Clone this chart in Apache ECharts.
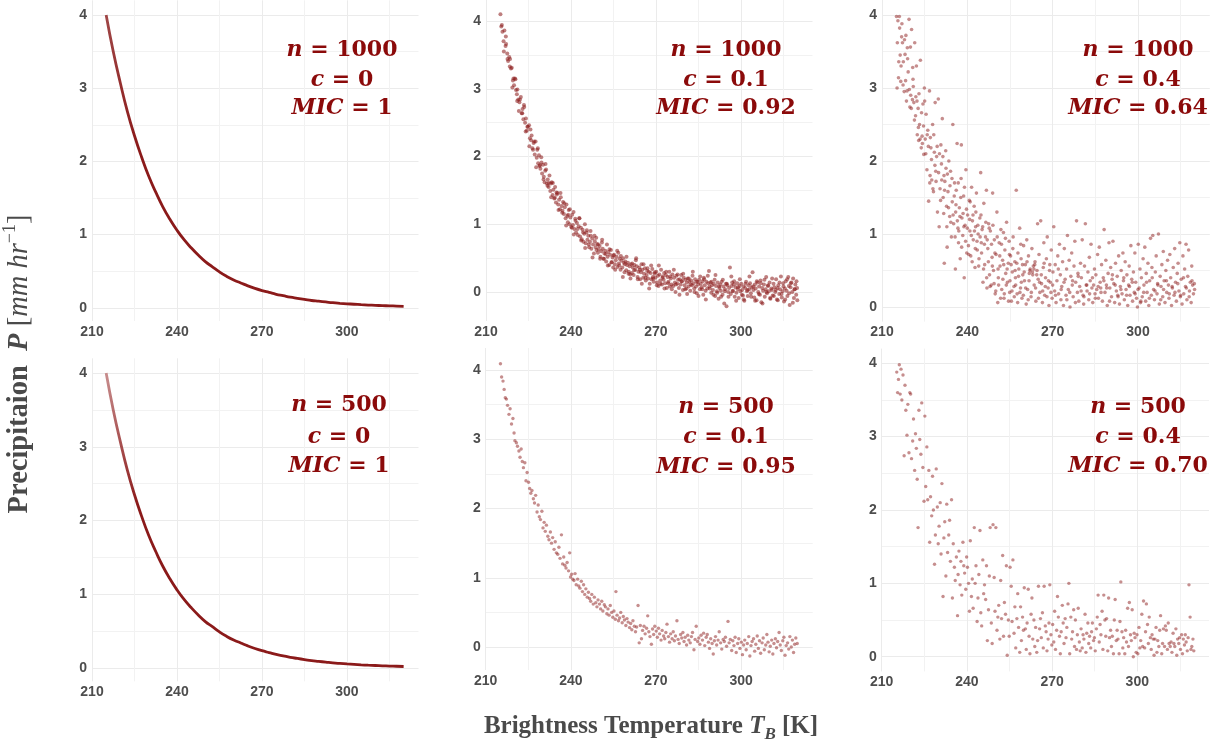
<!DOCTYPE html>
<html><head><meta charset="utf-8">
<script src="https://cdn.jsdelivr.net/npm/echarts@6/dist/echarts.min.js"></script>
<style>html,body{margin:0;padding:0;background:#fff}#c{width:1214px;height:742px}</style>
</head><body><div id="c"></div>
<script>
// ---------- DATA ----------
const xTickLabels = ['210','240','270','300'];
const nVals = ['1000','1000','1000','500','500','500'];
const cVals = ['0','0.1','0.4','0','0.1','0.4'];
const micVals = ['1','0.92','0.64','1','0.95','0.70'];

const curveT = [215,217.5,220,222.5,225,227.5,230,232.5,235,237.5,240,242.5,245,247.5,250,252.5,255,257.5,260,262.5,265,267.5,270,272.5,275,277.5,280,282.5,285,287.5,290,292.5,295,297.5,300,302.5,305,307.5,310,312.5,315,317.5,320];
const curveP = [4.00,3.50,3.07,2.68,2.35,2.06,1.80,1.58,1.38,1.21,1.06,0.93,0.82,0.72,0.63,0.56,0.49,0.43,0.38,0.34,0.30,0.265,0.235,0.21,0.185,0.165,0.145,0.13,0.115,0.10,0.09,0.08,0.07,0.062,0.055,0.049,0.043,0.038,0.034,0.030,0.027,0.024,0.021];

// n = 1000, c = 0.1
const pts1000c01 = [[215.1,4.10],[215.4,3.92],[215.8,3.84],[216.2,3.70],[216.5,3.86],[216.9,3.63],[217.1,3.66],[217.5,3.52],[217.8,3.41],[218.2,3.47],[218.4,3.33],[218.8,3.30],[219.1,3.31],[219.5,3.12],[219.9,3.05],[220.2,3.15],[220.6,2.98],[220.9,2.92],[221.1,2.99],[221.4,2.84],[221.8,2.80],[222.3,2.88],[222.6,2.64],[222.9,2.70],[223.2,2.55],[223.5,2.73],[223.8,2.50],[224.1,2.56],[224.4,2.38],[224.8,2.44],[225.2,2.46],[225.5,2.27],[225.9,2.24],[226.1,2.31],[226.4,2.12],[226.8,2.20],[227.2,2.03],[227.5,2.22],[227.9,1.98],[228.1,2.10],[228.4,1.90],[228.7,2.02],[228.9,1.86],[229.2,1.82],[229.5,1.99],[229.8,1.75],[230.1,1.88],[230.4,1.70],[230.7,1.62],[230.9,1.79],[231.2,1.81],[231.5,1.60],[231.8,1.66],[232.1,1.55],[232.4,1.72],[232.7,1.49],[232.9,1.60],[233.2,1.62],[233.5,1.43],[233.8,1.51],[234.1,1.38],[234.4,1.55],[234.7,1.32],[234.9,1.47],[235.2,1.46],[235.5,1.29],[235.8,1.36],[236.1,1.22],[236.4,1.40],[236.7,1.27],[236.9,1.17],[237.2,1.33],[237.5,1.15],[237.8,1.25],[238.1,1.09],[238.4,1.29],[238.7,1.12],[238.9,1.03],[239.2,1.21],[239.5,1.00],[239.8,1.10],[240.1,0.96],[240.4,1.14],[240.7,0.99],[240.9,1.18],[241.2,0.93],[241.5,1.08],[241.8,0.88],[242.1,1.02],[242.4,0.84],[242.7,0.97],[242.9,1.09],[243.2,0.82],[243.5,0.95],[243.8,0.78],[244.1,0.92],[244.4,0.74],[244.7,0.86],[244.9,1.00],[245.2,0.72],[245.5,0.88],[245.8,0.77],[246.1,0.83],[246.4,0.66],[246.7,0.74],[246.9,0.90],[247.2,0.64],[247.5,0.79],[247.8,0.70],[248.1,0.57],[248.4,0.75],[248.7,0.66],[248.9,0.80],[249.2,0.71],[249.5,0.58],[249.8,0.63],[250.1,0.68],[250.4,0.52],[250.7,0.60],[250.9,0.73],[251.2,0.64],[251.5,0.49],[251.8,0.57],[252.1,0.61],[252.4,0.45],[252.7,0.70],[252.9,0.52],[253.2,0.59],[253.5,0.40],[253.8,0.55],[254.1,0.62],[254.4,0.44],[254.7,0.51],[254.9,0.36],[255.2,0.55],[255.5,0.41],[255.8,0.47],[256.1,0.52],[256.4,0.37],[256.7,0.58],[256.9,0.42],[257.2,0.49],[257.5,0.33],[257.8,0.46],[258.1,0.36],[258.4,0.50],[258.7,0.43],[258.9,0.29],[259.2,0.45],[259.5,0.32],[259.8,0.40],[260.1,0.43],[260.4,0.30],[260.7,0.38],[260.9,0.26],[261.2,0.41],[261.5,0.28],[261.8,0.36],[262.1,0.25],[262.4,0.40],[262.7,0.33],[262.9,0.47],[263.2,0.38],[263.5,0.22],[263.8,0.30],[264.1,0.36],[264.4,0.19],[264.7,0.29],[264.9,0.41],[265.2,0.33],[265.5,0.21],[265.8,0.27],[266.1,0.35],[266.4,0.17],[266.7,0.25],[266.9,0.31],[267.2,0.20],[267.5,0.30],[267.8,0.12],[268.1,0.28],[268.4,0.19],[268.7,0.34],[268.9,0.22],[269.2,0.15],[269.5,0.27],[269.8,0.21],[270.1,0.30],[270.4,0.14],[270.7,0.24],[270.9,0.09],[271.2,0.26],[271.5,0.17],[271.8,0.33],[272.1,0.11],[272.4,0.23],[272.7,0.18],[272.9,0.28],[273.2,0.13],[273.5,0.25],[273.8,0.06],[274.1,0.22],[274.4,0.15],[274.7,0.30],[274.9,0.08],[275.2,0.20],[275.5,0.11],[275.8,0.26],[276.1,0.09],[276.4,0.21],[276.7,0.14],[276.9,0.00],[277.2,0.24],[277.5,0.12],[277.8,0.18],[278.1,0.06],[278.4,0.19],[278.7,0.11],[278.9,0.25],[279.2,0.16],[279.5,0.03],[279.8,0.21],[280.1,0.10],[280.4,0.18],[280.7,0.05],[280.9,0.14],[281.2,0.20],[281.5,0.08],[281.8,0.15],[282.1,0.02],[282.4,0.17],[282.7,0.10],[282.9,0.24],[283.2,0.13],[283.5,0.05],[283.8,0.19],[284.1,0.08],[284.4,-0.02],[284.7,0.15],[284.9,0.11],[285.2,0.18],[285.5,0.04],[285.8,0.12],[286.1,0.07],[286.4,0.16],[286.7,-0.04],[286.9,0.21],[287.2,0.10],[287.5,0.02],[287.8,0.15],[288.1,0.05],[288.4,0.13],[288.7,0.31],[288.9,0.08],[289.2,0.14],[289.5,-0.01],[289.8,0.10],[290.1,0.03],[290.4,0.12],[290.7,0.18],[290.9,-0.06],[291.2,0.09],[291.5,0.01],[291.8,0.14],[292.1,-0.10],[292.4,0.06],[292.7,0.11],[292.9,0.02],[293.2,0.15],[293.5,-0.04],[293.8,0.08],[294.1,-0.17],[294.4,0.04],[294.7,0.12],[294.9,-0.21],[295.2,0.10],[295.5,0.00],[295.8,0.06],[296.1,0.36],[296.4,-0.03],[296.7,0.09],[296.9,0.14],[297.2,0.02],[297.5,0.11],[297.8,-0.07],[298.1,0.07],[298.4,-0.01],[298.7,0.13],[298.9,0.04],[299.2,-0.09],[299.5,0.09],[299.8,0.01],[300.1,0.12],[300.4,0.03],[300.7,-0.05],[300.9,0.08],[301.2,-0.13],[301.5,0.06],[301.8,0.15],[302.1,0.01],[302.4,-0.06],[302.7,0.10],[302.9,0.04],[303.2,0.13],[303.5,-0.02],[303.8,0.07],[304.1,0.29],[304.4,0.03],[304.7,-0.08],[304.9,0.11],[305.2,0.05],[305.5,-0.12],[305.8,0.14],[306.1,0.00],[306.4,0.08],[306.7,-0.04],[306.9,0.17],[307.2,-0.15],[307.5,0.06],[307.8,0.02],[308.1,0.11],[308.4,-0.07],[308.7,0.04],[308.9,0.22],[309.2,-0.02],[309.5,0.09],[309.8,0.01],[310.1,0.14],[310.4,-0.10],[310.7,0.05],[310.9,0.03],[311.2,-0.05],[311.5,0.12],[311.8,0.07],[312.1,0.00],[312.4,0.19],[312.7,-0.11],[312.9,0.06],[313.2,0.10],[313.5,-0.03],[313.8,0.04],[314.1,0.23],[314.4,-0.08],[314.7,0.01],[314.9,0.13],[315.2,-0.14],[315.5,0.05],[315.8,0.16],[316.1,0.02],[316.4,-0.06],[316.7,0.22],[316.9,0.09],[317.2,-0.19],[317.5,0.07],[317.8,0.14],[318.1,0.00],[318.4,0.20],[318.7,-0.09],[318.9,0.04],[319.2,0.11],[319.5,-0.04],[319.8,0.06],[319.9,-0.12],
[215.6,3.94],[216.3,3.55],[217.0,3.77],[217.6,3.44],[218.5,3.44],[219.3,3.02],[219.7,3.15],[220.4,3.14],[221.0,2.82],[221.6,2.67],[222.0,2.84],[222.8,2.64],[223.4,2.76],[224.0,2.37],[224.6,2.44],[225.3,2.15],[225.7,2.40],[226.6,2.10],[227.0,2.22],[227.7,1.84],[228.3,2.12],[229.0,1.87],[229.6,1.91],[230.3,1.66],[231.0,1.89],[231.7,1.57],[232.2,1.61],[233.0,1.40],[233.6,1.61],[234.3,1.39],[235.0,1.44],[235.6,1.21],[236.3,1.46],[237.0,1.20],[237.6,1.31],[238.3,0.98],[239.0,1.14],[239.6,1.22],[240.3,0.95],[241.0,0.85],[241.6,1.05],[242.3,0.93],[243.0,1.09],[243.6,0.76],[244.3,0.88],[245.0,0.65],[245.6,0.91],[246.3,0.70],[247.0,0.83],[247.6,0.51],[248.3,0.83],[249.0,0.62],[249.6,0.70],[250.3,0.49],[251.0,0.77],[251.6,0.49],[252.3,0.56],[253.0,0.39],[253.6,0.63],[254.3,0.44],[255.0,0.54],[255.6,0.33],[256.3,0.61],[257.0,0.39],[257.6,0.53],[258.3,0.22],[259.0,0.41],[259.6,0.52],[260.3,0.27],[261.0,0.20],[261.6,0.42],[262.3,0.32],[263.0,0.50],[263.6,0.19],[264.3,0.33],[265.0,0.12],[265.6,0.41],[266.3,0.21],[267.0,0.35],[267.6,0.05],[268.3,0.39],[269.0,0.20],[269.6,0.29],[270.3,0.10],[271.0,0.39],[271.6,0.12],[272.3,0.21],[273.0,0.05],[273.6,0.30],[274.3,0.13],[275.0,0.23],[275.6,0.04],[276.3,0.33],[277.0,0.11],[277.6,0.26],[278.3,-0.04],[279.0,0.16],[279.6,0.27],[280.3,0.04],[281.0,-0.03],[281.6,0.20],[282.3,0.11],[283.0,0.30],[283.6,0.00],[284.3,0.15],[285.0,-0.06],[285.6,0.23],[286.3,0.04],[287.0,0.19],[287.6,-0.11],[288.3,0.24],[289.0,0.05],[289.6,0.15],[290.3,-0.04],[291.0,0.25],[291.6,-0.01],[292.3,0.08],[293.0,-0.07],[293.6,0.18],[294.3,0.01],[295.0,0.12],[295.6,-0.07],[296.6,0.23],[297.0,0.01],[297.6,0.16],[298.3,-0.13],[299.0,0.07],[299.6,0.19],[300.3,-0.04],[301.0,-0.11],[301.6,0.12],[302.3,0.03],[303.0,0.23],[303.6,-0.07],[304.3,0.08],[305.0,-0.13],[305.6,0.16],[306.3,-0.03],[307.0,0.13],[307.6,-0.17],[308.3,0.18],[309.0,0.00],[309.6,0.10],[310.3,-0.09],[311.0,0.20],[311.6,-0.06],[312.3,0.03],[313.0,-0.12],[313.6,0.14],[314.3,-0.03],[315.0,0.08],[315.6,-0.11],[316.3,0.19],[317.0,-0.02],[317.6,0.13],[318.3,-0.16],[319.0,0.04],[319.6,0.16]];

// n = 1000, c = 0.4
const pts1000c04 = [[215.1,3.98],[215.3,3.00],[215.6,3.92],[215.9,3.36],[216.1,3.98],[216.4,3.45],[216.6,3.09],[216.9,3.70],[217.2,3.62],[217.5,3.36],[217.8,2.95],[218.1,3.46],[218.3,3.10],[218.6,2.82],[218.9,3.55],[219.2,3.22],[219.5,3.94],[219.8,2.74],[220.1,2.90],[220.4,3.80],[220.7,2.84],[220.9,3.12],[221.2,2.80],[221.5,3.62],[221.8,2.62],[222.1,3.30],[222.4,2.36],[222.7,2.72],[222.9,2.28],[223.2,2.50],[223.5,3.38],[223.8,2.18],[224.1,2.34],[224.4,2.78],[224.7,2.09],[224.9,3.00],[225.2,2.30],[225.5,2.64],[225.8,1.88],[226.1,2.42],[226.4,1.45],[226.7,2.96],[226.9,1.80],[227.2,2.18],[227.5,1.74],[227.8,2.50],[228.1,1.58],[228.4,2.12],[228.7,2.80],[228.9,1.86],[229.2,2.06],[229.5,1.30],[229.8,2.85],[230.1,1.10],[230.4,1.62],[230.7,2.22],[230.9,1.96],[231.2,2.58],[231.5,1.50],[231.8,1.80],[231.9,0.60],[232.1,1.72],[232.4,2.14],[232.7,1.38],[232.9,0.82],[233.2,1.58],[233.5,2.00],[233.8,1.24],[234.1,1.86],[234.4,0.96],[234.7,1.44],[234.9,2.50],[235.2,1.14],[235.5,1.70],[235.8,0.52],[235.9,1.30],[236.1,1.60],[236.4,2.24],[236.7,1.08],[236.9,0.88],[237.2,1.36],[237.5,0.66],[237.8,1.76],[237.9,2.22],[238.1,1.22],[238.4,0.98],[238.7,1.52],[238.9,0.40],[239.2,1.12],[239.5,1.88],[239.8,0.74],[240.1,1.26],[240.4,0.84],[240.7,1.46],[240.9,1.04],[241.2,0.70],[241.5,1.64],[241.8,1.18],[242.1,0.92],[242.4,1.38],[242.7,0.54],[242.9,1.10],[243.2,1.56],[243.5,0.78],[243.8,1.00],[244.1,0.66],[244.4,1.22],[244.7,1.84],[244.9,0.88],[245.2,1.06],[245.5,0.34],[245.8,1.42],[246.1,0.58],[246.4,0.96],[246.7,1.60],[246.9,0.26],[247.2,0.80],[247.5,1.14],[247.8,0.44],[248.1,1.04],[248.4,0.30],[248.7,0.68],[248.9,1.56],[249.2,0.50],[249.5,0.92],[249.8,0.18],[250.1,0.72],[250.4,1.30],[250.7,0.06],[250.9,0.40],[251.2,0.88],[251.5,0.56],[251.8,1.06],[252.1,0.24],[252.4,0.64],[252.7,1.02],[252.9,0.12],[253.2,0.78],[253.5,0.46],[253.8,1.16],[254.1,0.34],[254.4,0.60],[254.7,0.90],[254.9,0.20],[255.2,0.70],[255.5,0.08],[255.8,0.48],[256.1,0.96],[256.4,0.28],[256.7,0.62],[256.9,0.40],[257.2,1.60],[257.5,0.18],[257.8,0.74],[258.1,0.52],[258.4,1.08],[258.7,0.26],[258.9,0.66],[259.2,0.12],[259.5,0.44],[259.8,0.84],[260.1,0.36],[260.4,0.58],[260.7,0.04],[260.9,0.92],[261.2,0.24],[261.5,0.70],[261.8,0.46],[262.1,0.52],[262.4,0.14],[262.7,0.80],[262.9,0.48],[263.2,0.56],[263.5,0.30],[263.8,0.62],[264.1,0.08],[264.4,0.44],[264.7,1.14],[264.9,0.38],[265.2,0.72],[265.5,0.20],[265.8,1.18],[266.1,0.32],[266.4,0.06],[266.7,0.54],[266.9,0.88],[267.2,0.16],[267.5,0.40],[267.8,0.66],[268.1,0.96],[268.4,0.26],[268.7,0.02],[268.9,0.50],[269.2,0.34],[269.5,0.78],[269.8,0.12],[270.1,0.48],[270.4,1.10],[270.7,0.22],[270.9,0.58],[271.2,0.06],[271.5,0.36],[271.8,0.70],[272.1,0.18],[272.4,0.86],[272.7,0.44],[272.9,0.10],[273.2,0.28],[273.5,0.62],[273.8,0.02],[274.1,0.80],[274.4,0.38],[274.7,0.16],[274.9,0.52],[275.2,0.98],[275.5,0.24],[275.8,0.64],[276.1,0.00],[276.4,0.42],[276.7,0.74],[276.9,0.30],[277.2,0.14],[277.5,0.56],[277.8,0.90],[278.1,0.34],[278.4,1.18],[278.7,0.20],[278.9,0.46],[279.2,0.08],[279.5,0.28],[279.8,0.60],[280.1,0.40],[280.4,0.92],[280.7,0.16],[280.9,0.04],[281.2,0.56],[281.5,1.14],[281.8,0.30],[282.1,0.22],[282.4,0.48],[282.7,0.10],[282.9,0.68],[283.2,0.36],[283.5,0.86],[283.8,0.26],[284.1,0.06],[284.4,0.30],[284.7,0.52],[284.9,0.18],[285.2,0.44],[285.5,0.24],[285.8,0.72],[286.1,0.12],[286.4,0.82],[286.7,0.34],[286.9,0.26],[287.2,0.58],[287.5,0.08],[287.8,0.40],[288.1,1.06],[288.4,0.20],[288.7,0.64],[288.9,0.30],[289.2,0.02],[289.5,0.46],[289.8,0.88],[290.1,0.26],[290.4,0.54],[290.7,0.14],[290.9,0.38],[291.2,0.90],[291.5,0.32],[291.8,0.06],[292.1,0.60],[292.4,0.22],[292.7,0.42],[292.9,0.16],[293.2,0.70],[293.5,0.04],[293.8,0.28],[294.1,0.50],[294.4,0.18],[294.7,0.74],[294.9,0.36],[295.2,0.10],[295.5,0.62],[295.8,0.24],[296.1,0.44],[296.4,0.02],[296.7,0.30],[296.9,0.56],[297.2,0.16],[297.5,0.84],[297.8,0.38],[298.1,0.08],[298.4,0.48],[298.7,0.20],[298.9,0.74],[299.2,0.34],[299.5,0.12],[299.8,0.00],[300.1,0.86],[300.4,0.26],[300.7,0.52],[300.9,0.06],[301.2,0.40],[301.5,0.14],[301.8,0.66],[302.1,0.30],[302.4,0.82],[302.7,0.08],[302.9,0.46],[303.2,0.20],[303.5,0.60],[303.8,0.02],[304.1,0.36],[304.4,0.94],[304.7,0.16],[304.9,0.54],[305.2,0.98],[305.5,0.24],[305.8,0.10],[306.1,0.48],[306.4,0.70],[306.7,0.18],[306.9,0.32],[307.2,1.00],[307.5,0.04],[307.8,0.42],[308.1,0.28],[308.4,0.58],[308.7,0.14],[308.9,0.76],[309.2,0.36],[309.5,0.06],[309.8,0.50],[310.1,0.20],[310.4,0.64],[310.7,0.30],[310.9,0.12],[311.2,0.72],[311.5,0.40],[311.8,0.02],[312.1,0.26],[312.4,0.54],[312.7,0.16],[312.9,0.80],[313.2,0.34],[313.5,0.08],[313.8,0.46],[314.1,0.60],[314.4,0.22],[314.7,0.88],[314.9,0.14],[315.2,0.38],[315.5,0.04],[315.8,0.70],[316.1,0.18],[316.4,0.52],[316.7,0.28],[316.9,0.86],[317.2,0.10],[317.5,0.42],[317.8,0.78],[318.1,0.22],[318.4,0.34],[318.7,0.06],[318.9,0.56],[319.2,0.30],[319.5,0.18],[319.8,0.32],[319.9,0.24],
[215.4,3.62],[215.8,3.14],[216.2,3.82],[216.7,3.30],[217.0,3.88],[217.4,3.04],[217.9,3.66],[218.4,3.72],[218.8,2.96],[219.0,3.40],[219.6,2.98],[220.0,3.56],[220.3,2.72],[220.8,3.28],[221.0,3.02],[221.4,2.56],[221.9,2.88],[222.3,2.82],[222.8,2.46],[223.0,2.92],[223.4,2.30],[223.9,2.66],[224.2,2.24],[224.6,2.48],[225.0,2.82],[225.4,2.10],[225.9,2.36],[226.3,2.20],[226.8,1.70],[227.0,2.32],[227.4,2.02],[227.9,1.62],[228.2,2.36],[228.6,1.94],[229.0,1.72],[229.4,2.20],[229.9,1.84],[230.2,2.10],[230.6,1.46],[231.0,1.74],[231.4,2.06],[231.7,1.28],[232.0,1.60],[232.5,1.90],[232.8,1.10],[233.0,1.82],[233.4,1.36],[233.9,1.66],[234.2,1.16],[234.6,1.76],[235.0,1.26],[235.4,1.52],[235.7,0.96],[236.0,1.40],[236.5,1.18],[236.8,1.70],[237.0,1.04],[237.4,1.24],[237.7,1.50],[238.0,0.82],[238.5,1.28],[238.8,1.10],[239.0,1.64],[239.4,0.90],[239.7,1.34],[240.0,1.08],[240.5,0.72],[240.8,1.20],[241.0,1.44],[241.4,0.98],[241.7,0.62],[242.0,1.26],[242.5,1.04],[242.8,0.80],[243.0,1.30],[243.4,0.90],[243.7,1.12],[244.0,0.56],[244.5,0.96],[244.8,1.26],[245.0,0.74],[245.4,1.10],[245.7,0.52],[246.0,0.86],[246.5,1.16],[246.8,0.40],[247.0,0.92],[247.4,0.62],[247.7,1.08],[248.0,0.28],[248.5,0.86],[248.8,0.56],[249.0,1.12],[249.4,0.32],[249.7,0.74],[250.0,0.22],[250.5,0.96],[250.8,0.52],[251.0,0.30],[251.4,0.70],[251.7,0.12],[252.0,0.86],[252.5,0.38],[252.8,0.58],[253.0,0.18],[253.4,0.94],[253.7,0.30],[254.0,0.52],[254.5,0.08],[254.8,0.72],[255.0,0.36],[255.4,0.58],[255.7,0.22],[256.0,0.80],[256.5,0.14],[256.8,0.50],[257.0,0.30],[257.4,0.60],[257.7,0.06],[258.0,0.42],[258.5,0.20],[258.8,0.86],[259.0,0.34],[259.4,0.58],[259.7,0.16],[260.0,0.48],[260.5,0.26],[261.0,0.62],[261.4,0.10],[261.7,0.36],[262.0,0.50],[262.5,0.20],[263.0,0.44],[263.4,0.52],[263.7,0.58],[264.0,0.26],[264.5,0.50],[265.0,0.12],[265.4,0.34],[266.0,0.44],[266.5,0.22],[267.0,0.60],[267.4,0.28],[268.0,0.14],[268.5,0.36],[269.0,0.58],[269.4,0.20],[270.0,0.30],[271.0,0.16],[272.0,0.52],[273.0,0.24],[274.0,0.34],[275.0,0.10],[276.0,0.20],[277.0,0.36],[278.0,0.06],[279.0,0.42],[280.0,0.22],[281.0,0.14],[282.0,0.30],[283.0,0.18],[284.0,0.40],[285.0,0.12],[286.0,0.28],[287.0,0.20],[288.0,0.36],[289.0,0.26],[290.0,0.08],[291.0,0.44],[292.0,0.30],[293.0,0.14],[294.0,0.24],[295.0,0.40],[296.0,0.16],[297.0,0.28],[298.0,0.34],[299.0,0.18],[300.0,0.24],[301.0,0.08],[302.0,0.20],[303.0,0.34],[304.0,0.12],[305.0,0.40],[306.0,0.22],[307.0,0.30],[308.0,0.10],[309.0,0.24],[310.0,0.36],[311.0,0.18],[312.0,0.28],[313.0,0.20],[314.0,0.32],[315.0,0.16],[316.0,0.40],[317.0,0.26],[318.0,0.14],[319.0,0.36]];

// n = 500, c = 0.1
const pts500c01 = [[215.2,4.09],[215.6,3.90],[216.1,3.84],[216.5,3.72],[216.9,3.60],[217.3,3.58],[217.7,3.49],[218.2,3.36],[218.6,3.44],[219.1,3.22],[219.6,3.30],[220.0,3.09],[220.3,2.98],[220.8,2.95],[221.2,2.90],[221.7,2.83],[222.1,2.74],[222.5,2.86],[222.9,2.68],[223.3,2.59],[223.8,2.66],[224.2,2.40],[224.6,2.52],[225.1,2.38],[225.5,2.29],[225.9,2.22],[226.3,2.26],[226.8,2.14],[227.2,2.08],[227.6,2.19],[228.1,1.95],[228.5,2.05],[228.9,1.88],[229.3,1.84],[229.8,1.96],[230.2,1.72],[230.6,1.80],[231.0,1.67],[231.4,1.76],[231.9,1.60],[232.3,1.55],[232.8,1.66],[233.2,1.50],[233.6,1.58],[234.1,1.41],[234.5,1.52],[234.9,1.36],[235.4,1.34],[235.8,1.44],[236.2,1.28],[236.7,1.62],[237.1,1.20],[237.5,1.30],[237.9,1.18],[238.3,1.14],[238.7,1.22],[239.2,1.10],[239.6,1.36],[239.9,1.01],[240.3,1.05],[240.7,0.98],[241.1,0.96],[241.5,1.06],[241.9,0.90],[242.4,0.98],[242.8,0.88],[243.2,0.85],[243.7,0.95],[244.1,0.80],[244.5,0.90],[244.9,0.76],[245.3,0.84],[245.8,0.72],[246.2,0.79],[246.6,0.70],[247.0,0.66],[247.4,0.76],[247.9,0.62],[248.3,0.72],[248.8,0.64],[249.2,0.58],[249.6,0.68],[250.1,0.62],[250.5,0.55],[250.9,0.66],[251.3,0.52],[251.8,0.61],[252.2,0.58],[252.7,0.48],[253.1,0.55],[253.5,0.46],[253.9,0.60],[254.4,0.50],[254.8,0.43],[255.2,0.52],[255.7,0.40],[255.9,0.80],[256.3,0.46],[256.8,0.38],[257.2,0.42],[257.6,0.50],[258.1,0.35],[258.5,0.44],[258.9,0.39],[259.4,0.31],[259.8,0.41],[260.2,0.36],[260.7,0.28],[261.1,0.34],[261.5,0.25],[261.9,0.38],[262.4,0.30],[262.8,0.22],[263.2,0.29],[263.7,0.60],[264.1,0.06],[264.5,0.31],[264.9,0.12],[265.3,0.24],[265.8,0.30],[266.2,0.19],[266.7,0.27],[267.1,0.45],[267.5,0.22],[267.9,0.15],[268.4,0.04],[268.8,0.26],[269.2,0.18],[269.6,0.30],[270.1,0.23],[270.5,0.14],[270.9,0.27],[271.3,0.19],[271.8,0.10],[272.2,0.24],[272.7,0.16],[273.1,0.12],[273.5,0.21],[273.9,0.33],[274.4,0.15],[274.8,0.07],[275.2,0.19],[275.7,0.12],[276.1,0.22],[276.5,0.09],[276.9,0.16],[277.4,0.38],[277.8,0.11],[278.2,0.05],[278.7,0.18],[279.1,0.13],[279.5,0.21],[279.9,0.08],[280.3,0.14],[280.8,0.03],[281.2,0.17],[281.6,0.10],[282.1,0.06],[282.5,0.15],[282.9,0.21],[283.4,-0.04],[283.8,0.11],[284.2,0.30],[284.7,0.08],[285.1,0.13],[285.5,0.04],[285.9,0.17],[286.4,0.10],[286.8,0.20],[287.2,0.02],[287.7,0.14],[288.1,0.18],[288.5,0.07],[288.9,-0.02],[289.3,0.12],[289.8,0.05],[290.2,-0.10],[290.6,0.09],[291.0,0.15],[291.4,0.03],[291.9,0.10],[292.3,0.22],[292.8,0.06],[293.2,-0.03],[293.7,0.11],[294.1,0.08],[294.5,0.14],[294.9,0.01],[295.4,0.37],[295.8,0.06],[296.2,0.11],[296.7,-0.05],[297.1,0.09],[297.5,0.02],[297.9,0.14],[298.3,-0.08],[298.8,0.05],[299.2,0.12],[299.6,-0.02],[300.1,0.07],[300.5,-0.11],[300.9,0.03],[301.3,0.10],[301.8,-0.04],[302.2,0.05],[302.7,0.15],[303.1,-0.13],[303.5,0.02],[303.9,0.08],[304.4,0.12],[304.8,-0.06],[305.2,0.04],[305.7,0.16],[306.1,-0.02],[306.5,0.09],[306.9,-0.09],[307.4,0.06],[307.8,0.13],[308.2,-0.04],[308.7,0.03],[309.1,0.18],[309.5,0.07],[309.9,-0.07],[310.3,0.01],[310.8,0.10],[311.2,-0.10],[311.6,0.05],[312.1,0.12],[312.5,-0.01],[312.9,0.08],[313.4,0.21],[313.8,0.03],[314.2,-0.05],[314.7,0.09],[315.1,0.14],[315.5,-0.12],[315.9,0.02],[316.4,0.06],[316.8,-0.03],[317.2,0.15],[317.7,0.00],[318.1,0.10],[318.5,-0.08],[318.9,0.04],[319.3,0.13],[319.8,0.05]];

// n = 500, c = 0.4
const pts500c04 = [[215.3,3.88],[215.6,3.60],[215.9,3.78],[216.2,3.98],[216.5,3.58],[216.8,3.92],[217.1,3.50],[217.5,3.84],[217.9,2.74],[218.2,3.70],[218.5,3.36],[218.9,3.02],[219.2,3.44],[219.6,2.78],[219.9,3.60],[220.2,3.58],[220.5,2.70],[220.9,2.94],[221.2,3.24],[221.6,2.54],[221.9,3.04],[222.2,2.84],[222.5,2.42],[222.8,1.76],[223.1,3.36],[223.4,2.96],[223.8,2.76],[224.1,3.46],[224.5,2.58],[224.9,2.12],[225.2,3.28],[225.5,2.32],[225.9,2.86],[226.2,2.14],[226.6,2.54],[226.9,1.56],[227.2,2.18],[227.6,1.92],[227.9,2.46],[228.2,2.00],[228.6,1.26],[228.9,1.66],[229.2,2.56],[229.6,2.04],[229.9,1.54],[230.2,1.78],[230.6,2.10],[230.9,1.40],[231.2,2.36],[231.6,0.82],[231.9,1.62],[232.2,1.84],[232.6,1.10],[232.9,2.08],[233.2,1.42],[233.6,1.66],[233.9,1.86],[234.2,1.30],[234.6,2.14],[234.9,0.80],[235.2,1.54],[235.6,1.22],[235.9,1.04],[236.3,1.36],[236.7,0.56],[236.9,1.12],[237.2,1.44],[237.6,0.98],[237.9,1.30],[238.2,0.84],[238.6,1.56],[238.9,1.24],[239.2,1.14],[239.6,0.92],[239.9,1.36],[240.2,1.22],[240.6,1.00],[240.9,0.62],[241.2,1.58],[241.6,0.82],[241.9,1.06],[242.2,0.66],[242.6,1.76],[242.9,1.00],[243.2,1.24],[243.6,0.48],[243.9,0.80],[244.2,1.12],[244.6,1.72],[244.9,0.60],[245.2,0.42],[245.6,1.32],[245.9,0.86],[246.2,0.98],[246.6,0.78],[246.9,1.24],[247.2,0.22],[247.6,0.64],[247.9,1.10],[248.2,1.76],[248.6,0.46],[248.9,0.18],[249.2,1.80],[249.6,1.08],[249.9,0.62],[250.2,1.76],[250.6,0.36],[250.9,0.54],[251.2,0.70],[251.6,0.24],[251.9,1.04],[252.2,0.52],[252.6,1.38],[252.9,0.28],[253.2,0.74],[253.6,0.58],[253.9,1.24],[254.2,0.02],[254.6,0.50],[254.9,0.28],[255.2,1.22],[255.6,0.96],[255.9,0.48],[256.2,1.32],[256.6,0.32],[256.9,0.68],[257.2,0.12],[257.6,0.52],[257.9,0.86],[258.2,0.40],[258.6,0.06],[258.9,0.68],[259.2,0.22],[259.6,0.54],[259.9,0.36],[260.2,0.94],[260.6,0.38],[260.9,0.10],[261.2,0.46],[261.6,0.92],[261.9,0.28],[262.2,0.04],[262.6,0.58],[262.9,0.80],[263.2,0.24],[263.6,0.50],[263.9,0.14],[264.2,0.40],[264.6,0.06],[264.9,0.22],[265.2,0.96],[265.6,0.38],[265.9,0.52],[266.2,0.26],[266.6,0.60],[266.9,0.12],[267.2,0.96],[267.6,0.42],[267.9,0.34],[268.2,0.08],[268.6,0.24],[268.9,0.46],[269.2,0.98],[269.6,0.30],[269.9,0.16],[270.2,0.44],[270.6,0.20],[270.9,0.62],[271.2,0.10],[271.6,0.36],[271.9,0.82],[272.2,0.54],[272.6,0.28],[272.9,0.04],[273.2,0.34],[273.6,0.70],[273.9,0.46],[274.2,0.18],[274.6,0.52],[274.9,0.26],[275.2,0.40],[275.6,0.72],[275.9,1.00],[276.2,0.04],[276.6,0.54],[276.9,0.24],[277.2,0.34],[277.6,0.64],[277.9,0.14],[278.2,0.50],[278.6,0.10],[278.9,0.30],[279.2,0.66],[279.6,0.20],[279.9,0.08],[280.2,0.38],[280.6,0.12],[280.9,0.30],[281.2,0.24],[281.6,0.58],[281.9,0.06],[282.2,0.32],[282.6,0.46],[282.9,0.18],[283.2,0.28],[283.6,0.12],[283.9,0.34],[284.2,0.46],[284.6,0.22],[284.9,0.26],[285.2,0.08],[285.6,0.38],[285.9,0.54],[286.2,0.84],[286.6,0.20],[286.9,0.44],[287.2,0.30],[287.6,0.62],[287.9,0.10],[288.2,0.84],[288.6,0.50],[288.9,0.28],[289.2,0.52],[289.6,0.08],[289.9,0.80],[290.2,0.26],[290.6,0.36],[290.9,0.14],[291.2,0.28],[291.6,0.04],[291.9,0.50],[292.2,0.78],[292.6,0.22],[292.9,0.36],[293.2,0.24],[293.6,0.04],[293.9,0.48],[294.2,1.02],[294.6,0.34],[294.9,0.12],[295.2,0.26],[295.6,0.04],[295.9,0.36],[296.2,0.20],[296.6,0.66],[296.9,0.14],[297.2,0.74],[297.6,0.30],[297.9,0.22],[298.2,0.64],[298.6,0.00],[298.9,0.32],[299.2,0.26],[299.6,0.06],[299.9,0.30],[300.2,0.04],[300.6,0.40],[300.9,0.12],[301.2,0.22],[301.6,0.58],[301.9,0.14],[302.2,0.76],[302.6,0.12],[302.9,0.34],[303.2,0.72],[303.6,0.44],[303.9,0.18],[304.2,0.54],[304.6,0.26],[304.9,0.10],[305.2,0.30],[305.6,0.24],[305.9,0.02],[306.2,0.24],[306.6,0.40],[306.9,0.06],[307.2,0.22],[307.6,0.14],[307.9,0.36],[308.2,0.56],[308.6,0.04],[308.9,0.18],[309.2,0.38],[309.6,0.14],[309.9,0.42],[310.2,0.36],[310.6,0.10],[310.9,0.46],[311.2,0.18],[311.6,0.14],[311.9,0.20],[312.2,0.06],[312.6,0.32],[312.9,0.18],[313.2,0.14],[313.6,0.38],[313.9,0.02],[314.2,0.24],[314.6,0.18],[314.9,0.26],[315.2,0.10],[315.6,0.30],[315.9,0.04],[316.2,0.24],[316.6,0.16],[316.9,0.30],[317.2,0.20],[317.6,0.08],[317.9,0.26],[318.2,0.98],[318.6,0.54],[318.9,0.10],[319.2,0.14],[319.6,0.24],[319.9,0.08]];

// ---------- LAYOUT / STYLE ----------
const panels = [
  {left:92,  top:0.3, width:326.5, height:320.7, ymin:-0.18, ymax:4.2,   tx:342, ty:[50,80,108]},
  {left:486, top:0,   width:326.5, height:321,   ymin:-0.428,ymax:4.31, tx:726, ty:[50,80,108]},
  {left:882, top:0,   width:327.8, height:321.6, ymin:-0.2,  ymax:4.205, tx:1138,ty:[50,80,108]},
  {left:92,  top:358.3,width:326.5,height:323,   ymin:-0.18, ymax:4.2,   tx:339, ty:[405,437,466]},
  {left:485.7,top:348,width:327,   height:322,   ymin:-0.332,ymax:4.318, tx:726, ty:[407,437,467]},
  {left:881.7,top:348.6,width:327.3,height:322.8,ymin:-0.2,  ymax:4.2,   tx:1138,ty:[407,437,466]}
];
const DOT = 'rgba(139,26,26,0.62)';
const DOT_DENSE = 'rgba(139,26,26,0.7)';
const LINE = '#8b1a1a';
const ANN = '#8b0a0a';
const GRID = '#ebebeb';
const AX = '#4d4d4d';

const grids = panels.map(p => ({left:p.left, top:p.top, width:p.width, height:p.height, containLabel:false}));
const xAxes = panels.map((p,i) => ({
  type:'value', gridIndex:i, min:210, max:325.25, interval:30, z:0,
  axisLine:{show:false}, axisTick:{show:false},
  axisLabel:{color:AX, fontFamily:'Liberation Sans, Arial, sans-serif', fontWeight:'bold', fontSize:14, margin:4,
    showMaxLabel:false, formatter:v => xTickLabels.indexOf(String(v))>=0 ? String(v) : ''},
  splitLine:{show:true, showMaxLine:false, lineStyle:{color:GRID, width:1}},
  minorTick:{show:false, splitNumber:2},
  minorSplitLine:{show:true, lineStyle:{color:'#f2f2f2', width:1}}
}));
const yAxes = panels.map((p,i) => ({
  type:'value', gridIndex:i, min:p.ymin, max:p.ymax, splitNumber:4, z:0,
  axisLine:{show:false}, axisTick:{show:false},
  axisLabel:{color:AX, fontFamily:'Liberation Sans, Arial, sans-serif', fontWeight:'bold', fontSize:14, margin:5,
    showMinLabel:false, showMaxLabel:false, formatter:v => (Math.abs(v-Math.round(v))<1e-9) ? String(Math.round(v)) : ''},
  splitLine:{show:true, showMinLine:false, showMaxLine:false, lineStyle:{color:GRID, width:1}},
  minorTick:{show:false, splitNumber:2},
  minorSplitLine:{show:true, lineStyle:{color:'#f2f2f2', width:1}}
}));

const curveData = curveT.map((t,i) => [t, curveP[i]]);
function lineSeries(i, topColor){
  return {type:'line', xAxisIndex:i, yAxisIndex:i, data:curveData, smooth:true, showSymbol:false, symbol:'none',
    lineStyle:{width:2.8, color:new echarts.graphic.LinearGradient(0,0,0,1,[{offset:0,color:topColor},{offset:0.45,color:LINE},{offset:1,color:LINE}])},
    silent:true};
}
function scatterSeries(i, data, size, col){
  return {type:'scatter', xAxisIndex:i, yAxisIndex:i, data:data, symbol:'circle', symbolSize:size,
    itemStyle:{color:col}, silent:true};
}
const series = [
  lineSeries(0,'#a04848'),
  scatterSeries(1, pts1000c01, 4, DOT_DENSE),
  scatterSeries(2, pts1000c04, 3.6, DOT),
  lineSeries(3,'#c99090'),
  scatterSeries(4, pts500c01, 3.4, DOT),
  scatterSeries(5, pts500c04, 3.4, DOT)
];

// annotation texts (drawn above the grid lines)
const SER = 'DejaVu Serif, serif';
const annRich = {
  i:{fontFamily:SER, fontWeight:'bold', fontStyle:'italic', fontSize:22, fill:ANN},
  r:{fontFamily:SER, fontWeight:'bold', fontStyle:'normal', fontSize:22, fill:ANN}
};
const graphics = [];
panels.forEach((p,i) => {
  const lines = ['{i|n}{r| = ' + nVals[i] + '}', '{i|c}{r| = ' + cVals[i] + '}', '{i|MIC}{r| = ' + micVals[i] + '}'];
  lines.forEach((t,k) => {
    graphics.push({type:'text', x:p.tx, y:p.ty[k], z:100, zlevel:0, silent:true,
      style:{text:t, rich:annRich, align:'center', verticalAlign:'middle', legacy:false}});
  });
});
const TF = 'Liberation Serif, Times New Roman, serif';
const TC = '#4a4a4a';
const YT = 28.5;
graphics.push({type:'text', x:20, y:364, rotation:Math.PI/2, z:100, silent:true,
  style:{legacy:false, align:'center', verticalAlign:'middle',
    text:'{b|Precipitaion  }{bi|P}{m| [}{mi|mm hr}{sup|\u22121}{m|]}',
    rich:{
      b:{fontFamily:TF, fontWeight:'bold', fontSize:YT, fill:TC, lineHeight:38},
      bi:{fontFamily:TF, fontWeight:'bold', fontStyle:'italic', fontSize:YT, fill:TC, lineHeight:38},
      m:{fontFamily:TF, fontSize:YT, fill:TC, lineHeight:38},
      mi:{fontFamily:TF, fontStyle:'italic', fontSize:YT, fill:TC, lineHeight:38},
      sup:{fontFamily:TF, fontSize:18, fill:TC, verticalAlign:'top', lineHeight:18}
    }}});
graphics.push({type:'text', x:651, y:727, z:100, silent:true,
  style:{legacy:false, align:'center', verticalAlign:'middle',
    text:'{b|Brightness Temperature }{bi|T}{sub|B}{b| [K]}',
    rich:{
      b:{fontFamily:TF, fontWeight:'bold', fontSize:25, fill:TC, lineHeight:32},
      bi:{fontFamily:TF, fontWeight:'bold', fontStyle:'italic', fontSize:25, fill:TC, lineHeight:32},
      sub:{fontFamily:TF, fontWeight:'bold', fontStyle:'italic', fontSize:17, fill:TC, verticalAlign:'bottom', lineHeight:17}
    }}});

const chart = echarts.init(document.getElementById('c'), null, {renderer:'canvas'});
chart.setOption({
  animation:false,
  backgroundColor:'#ffffff',
  grid:grids, xAxis:xAxes, yAxis:yAxes, series:series, graphic:graphics
});
</script>
</body></html>
